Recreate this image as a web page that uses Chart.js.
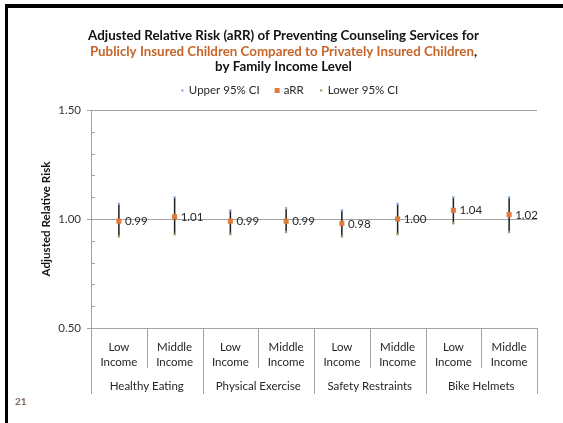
<!DOCTYPE html>
<html>
<head>
<meta charset="utf-8">
<script src="https://cdn.jsdelivr.net/npm/chart.js@4/dist/chart.umd.min.js"></script>
<style>
  html, body { margin: 0; padding: 0; background: #fff; }
  #wrap { width: 563px; height: 423px; }
</style>
</head>
<body>
<div id="wrap"><canvas id="chart" width="563" height="423"></canvas></div>
<script>
// Preventive counseling categories and income levels
const groups = ['Healthy Eating', 'Physical Exercise', 'Safety Restraints', 'Bike Helmets'];
const incomeLevels = [['Low', 'Income'], ['Middle', 'Income']];
const categories = groups.flatMap(() => incomeLevels);

// Adjusted relative risk with 95% confidence limits, per category
const aRR     = [0.99, 1.01, 0.99, 0.99, 0.98, 1.00, 1.04, 1.02];
const upperCI = [1.07, 1.10, 1.04, 1.05, 1.04, 1.07, 1.10, 1.10];
const lowerCI = [0.92, 0.93, 0.93, 0.94, 0.92, 0.93, 0.98, 0.94];

// Labelled y ticks (minor ticks every 0.1 in between)
const yTickLabels = [0.50, 1.00, 1.50];

const titleLine1 = 'Adjusted Relative Risk (aRR) of Preventing Counseling Services for';
const titleLine2 = 'Publicly Insured Children Compared to Privately Insured Children';
const titleLine3 = 'by Family Income Level';
const yAxisTitle = 'Adjusted Relative Risk';
const pageNumber = '21';

const FONT = 'Lato, "DejaVu Sans", sans-serif';
const TEXT = '#262626';
const GRID = '#a3a3a3';
const ORANGE = '#e07b3c';
const BLUE = '#8eb4e3';
const OLIVE = '#a3a86c';

Chart.defaults.font.family = FONT;
Chart.defaults.color = TEXT;

const isMajor = v => yTickLabels.some(t => Math.abs(t - v) < 1e-6);

function fitSize(ctx, text, weight, target, base) {
  ctx.font = weight + ' ' + base + 'px ' + FONT;
  const w = ctx.measureText(text).width;
  return base * target / w;
}

const decor = {
  id: 'decor',
  beforeDraw(chart) {
    const ctx = chart.ctx;
    ctx.save();
    ctx.fillStyle = '#fff';
    ctx.fillRect(0, 0, chart.width, chart.height);
    // slide frame: left and top rules
    ctx.fillStyle = '#000';
    ctx.fillRect(5, 4, 3, chart.height - 4);
    ctx.fillRect(5, 4, chart.width - 5, 4);
    ctx.restore();
  },
  afterDraw(chart) {
    const ctx = chart.ctx;
    const area = chart.chartArea;
    const xs = chart.scales.x;
    const ys = chart.scales.y;
    ctx.save();

    // Title
    const cx = 283.5;
    let size = fitSize(ctx, titleLine1, 'bold', 391, 12);
    ctx.font = 'bold ' + size + 'px ' + FONT;
    ctx.textBaseline = 'middle';
    ctx.textAlign = 'center';
    ctx.fillStyle = '#111';
    ctx.fillText(titleLine1, cx, 36);
    const w2 = ctx.measureText(titleLine2).width;
    const wc = ctx.measureText(',').width;
    ctx.textAlign = 'left';
    const x2 = cx - (w2 + wc) / 2;
    ctx.fillStyle = '#c5652a';
    ctx.fillText(titleLine2, x2, 51.5);
    ctx.fillStyle = '#111';
    ctx.fillText(',', x2 + w2, 51.5);
    ctx.textAlign = 'center';
    ctx.fillText(titleLine3, cx, 67);

    // Legend
    const items = [0, 1, 2].map(i => chart.data.datasets[i]);
    ctx.font = '11.5px ' + FONT;
    const gapMarker = 5, gapItem = 16;
    const widths = items.map(d => ctx.measureText(d.label).width);
    const total = widths.reduce((a, b) => a + b, 0) + items.length * (3 + gapMarker) + gapItem * (items.length - 1);
    let lx = 289.5 - total / 2;
    const ly = 90.5;
    items.forEach((d, i) => {
      ctx.fillStyle = d.pointBackgroundColor;
      if (d.pointStyle === 'rect') {
        ctx.fillRect(lx - 1, ly - 2.5, 5, 5);
      } else {
        ctx.beginPath();
        ctx.arc(lx + 1.5, ly, 1.3, 0, Math.PI * 2);
        ctx.fill();
      }
      lx += 3 + gapMarker;
      ctx.fillStyle = TEXT;
      ctx.textAlign = 'left';
      ctx.fillText(d.label, lx, ly);
      lx += widths[i] + gapItem;
    });

    // Y axis title
    size = fitSize(ctx, yAxisTitle, 'bold', 115, 10);
    ctx.font = 'bold ' + size + 'px ' + FONT;
    ctx.save();
    ctx.translate(46, (area.top + area.bottom) / 2);
    ctx.rotate(-Math.PI / 2);
    ctx.textAlign = 'center';
    ctx.fillStyle = '#111';
    ctx.fillText(yAxisTitle, 0, 0);
    ctx.restore();

    // Minor ticks inside the axis
    ctx.strokeStyle = GRID;
    ctx.lineWidth = 1;
    ys.ticks.forEach(t => {
      if (isMajor(t.value)) return;
      const y = Math.round(ys.getPixelForValue(t.value)) + 0.5;
      ctx.beginPath();
      ctx.moveTo(area.left, y);
      ctx.lineTo(area.left + 4, y);
      ctx.stroke();
    });

    // Category dividers and group dividers below the plot
    const n = categories.length;
    const per = incomeLevels.length;
    for (let i = 0; i <= n; i++) {
      let x;
      if (i === 0) x = xs.left;
      else if (i === n) x = xs.right;
      else x = (xs.getPixelForValue(i - 1) + xs.getPixelForValue(i)) / 2;
      x = Math.round(x) + 0.5;
      const len = (i % per === 0) ? 66 : 40;
      ctx.beginPath();
      ctx.moveTo(x, area.bottom);
      ctx.lineTo(x, area.bottom + len);
      ctx.stroke();
    }

    // Group labels
    ctx.font = '11.5px ' + FONT;
    ctx.fillStyle = TEXT;
    ctx.textAlign = 'center';
    groups.forEach((g, gi) => {
      const a = xs.getPixelForValue(gi * per);
      const b = xs.getPixelForValue(gi * per + per - 1);
      ctx.fillText(g, (a + b) / 2, area.bottom + 58.5);
    });

    // Value labels beside the aRR markers
    const meta = chart.getDatasetMeta(1);
    ctx.font = '11.5px ' + FONT;
    ctx.textAlign = 'left';
    meta.data.forEach((pt, i) => {
      ctx.fillText(aRR[i].toFixed(2), pt.x + 6, pt.y + 0.5);
    });

    // Page number
    ctx.font = 'bold 10px ' + FONT;
    ctx.fillStyle = '#7f6b5f';
    ctx.fillText(pageNumber, 15, 402);
    ctx.restore();
  }
};

new Chart(document.getElementById('chart'), {
  type: 'bar',
  data: {
    labels: categories,
    datasets: [
      {
        type: 'line', label: 'Upper 95% CI', data: upperCI, showLine: false,
        pointStyle: 'circle', pointRadius: 1.3, pointBackgroundColor: BLUE,
        pointBorderWidth: 0, order: 1
      },
      {
        type: 'line', label: 'aRR', data: aRR, showLine: false,
        pointStyle: 'rect', pointRadius: 3.6, pointBackgroundColor: ORANGE,
        pointBorderWidth: 0, order: 0
      },
      {
        type: 'line', label: 'Lower 95% CI', data: lowerCI, showLine: false,
        pointStyle: 'circle', pointRadius: 1.3, pointBackgroundColor: OLIVE,
        pointBorderWidth: 0, order: 1
      },
      {
        type: 'bar', label: '95% CI range',
        data: lowerCI.map((lo, i) => [lo, upperCI[i]]),
        backgroundColor: '#1c1c1c', barThickness: 1.5, inflateAmount: 0,
        borderWidth: 0, grouped: false, order: 3
      }
    ]
  },
  options: {
    responsive: false,
    animation: false,
    layout: { padding: { top: 110, right: 26, left: 0, bottom: 0 } },
    plugins: {
      legend: { display: false },
      tooltip: { enabled: false },
      title: { display: false }
    },
    scales: {
      x: {
        offset: true,
        grid: { display: false },
        border: { display: false },
        ticks: {
          padding: 4, autoSkip: false, maxRotation: 0, minRotation: 0,
          color: TEXT, font: { size: 11.5, lineHeight: 1.3 }
        },
        afterFit(s) { s.height = 95; }
      },
      y: {
        min: 0.5, max: 1.5,
        ticks: {
          stepSize: 0.1, padding: 6, color: '#333', font: { size: 11.5 },
          callback: v => isMajor(v) ? Number(v).toFixed(2) : ''
        },
        grid: {
          color: c => (c.tick && isMajor(c.tick.value)) ? GRID : 'rgba(0,0,0,0)',
          tickLength: 4, lineWidth: 1
        },
        border: { color: GRID, width: 1 },
        afterFit(s) { s.width = 91; }
      }
    }
  },
  plugins: [decor]
});
</script>
</body>
</html>
